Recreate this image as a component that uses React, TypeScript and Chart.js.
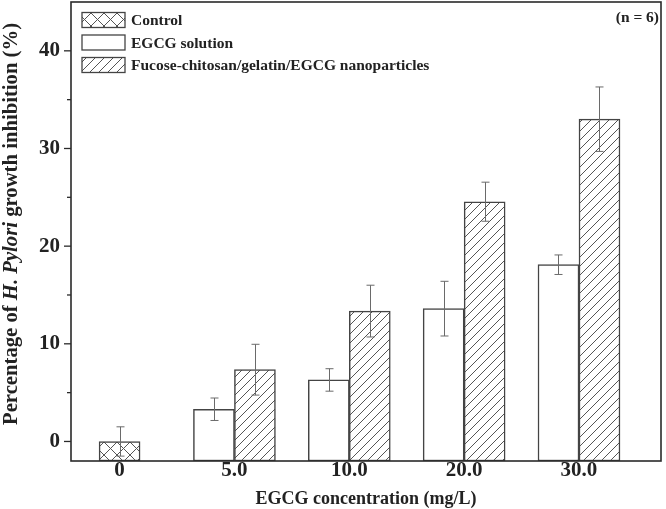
import React, { useEffect, useRef } from 'react';
import { Chart, registerables } from 'chart.js';

Chart.register(...registerables);

// ---- data ----
const categories = ['0', '5.0', '10.0', '20.0', '30.0'];
const seriesLabels = ['Control', 'EGCG solution', 'Fucose-chitosan/gelatin/EGCG nanoparticles'];
const controlValues = [0, null, null, null, null];
const controlErrors = [1.5, null, null, null, null];
const solutionValues = [null, 3.3, 6.3, 13.6, 18.1];
const solutionErrors = [null, 1.15, 1.15, 2.8, 1.0];
const nanoValues = [null, 7.35, 13.35, 24.55, 33.0];
const nanoErrors = [null, 2.6, 2.65, 2.0, 3.3];
const yMin = -2;
const yMax = 45;
const yTicks = [0, 5, 10, 15, 20, 25, 30, 35, 40];
const yLabelStep = 10;
const xTitle = 'EGCG concentration (mg/L)';
const yTitleParts = [
  { text: 'Percentage of ', italic: false },
  { text: 'H. Pylori', italic: true },
  { text: ' growth inhibition (%)', italic: false },
];
const noteText = '(n = 6)';

const FONT = '"Liberation Serif", "Times New Roman", serif';
const INK = '#222';
const BAR_EDGE = '#444';
const HATCH = '#555';

function makePattern(ctx: CanvasRenderingContext2D, size: number, cross: boolean) {
  const c = document.createElement('canvas');
  c.width = size;
  c.height = size;
  const g = c.getContext('2d')!;
  g.fillStyle = '#fff';
  g.fillRect(0, 0, size, size);
  g.strokeStyle = HATCH;
  g.lineWidth = 1;
  g.beginPath();
  g.moveTo(-1, size + 1);
  g.lineTo(size + 1, -1);
  g.moveTo(-2, 2);
  g.lineTo(2, -2);
  g.moveTo(size - 2, size + 2);
  g.lineTo(size + 2, size - 2);
  if (cross) {
    g.moveTo(-1, -1);
    g.lineTo(size + 1, size + 1);
    g.moveTo(size - 2, -2);
    g.lineTo(size + 2, 2);
    g.moveTo(-2, size - 2);
    g.lineTo(2, size + 2);
  }
  g.stroke();
  return ctx.createPattern(c, 'repeat')!;
}

export default function App() {
  const ref = useRef<HTMLCanvasElement | null>(null);

  useEffect(() => {
    const canvas = ref.current!;
    const ctx = canvas.getContext('2d')!;
    const crossPat = makePattern(ctx, 13, true);
    const diagPat = makePattern(ctx, 9, false);
    const fills: any[] = [crossPat, '#ffffff', diagPat];
    const errors = [controlErrors, solutionErrors, nanoErrors];

    const decor = {
      id: 'decor',
      beforeDraw(chart: any) {
        const c = chart.ctx;
        c.save();
        c.fillStyle = '#fff';
        c.fillRect(0, 0, chart.width, chart.height);
        c.restore();
      },
      afterDatasetsDraw(chart: any) {
        const c: CanvasRenderingContext2D = chart.ctx;
        const ys = chart.scales.y;
        const area = chart.chartArea;
        c.save();
        // error bars
        c.strokeStyle = '#6a6a6a';
        c.lineWidth = 1;
        chart.data.datasets.forEach((ds: any, i: number) => {
          const meta = chart.getDatasetMeta(i);
          ds.data.forEach((v: any, j: number) => {
            const e = errors[i][j];
            if (v === null || e === null) return;
            const el = meta.data[j];
            const x = Math.round(el.x) + 0.5;
            const yt = ys.getPixelForValue(v + e);
            const yb = ys.getPixelForValue(v - e);
            c.beginPath();
            c.moveTo(x, yt);
            c.lineTo(x, yb);
            c.moveTo(x - 4, yt);
            c.lineTo(x + 4, yt);
            c.moveTo(x - 4, yb);
            c.lineTo(x + 4, yb);
            c.stroke();
          });
        });
        // frame
        c.strokeStyle = '#2a2a2a';
        c.lineWidth = 1.6;
        c.strokeRect(area.left, area.top, area.right - area.left, area.bottom - area.top);
        // y tick marks
        c.lineWidth = 1.3;
        for (const v of yTicks) {
          const y = ys.getPixelForValue(v);
          const len = v % yLabelStep === 0 ? 7 : 4;
          c.beginPath();
          c.moveTo(area.left - len, y);
          c.lineTo(area.left, y);
          c.stroke();
        }
        // legend
        const lx = area.left + 11;
        const boxW = 43;
        const boxH = 15;
        c.font = `bold 15.5px ${FONT}`;
        c.textBaseline = 'middle';
        c.textAlign = 'left';
        seriesLabels.forEach((lab, i) => {
          const top = 12.5 + i * 22.5;
          c.fillStyle = fills[i];
          c.fillRect(lx, top, boxW, boxH);
          c.strokeStyle = BAR_EDGE;
          c.lineWidth = 1.3;
          c.strokeRect(lx, top, boxW, boxH);
          c.fillStyle = INK;
          c.fillText(lab, lx + boxW + 6, top + boxH / 2 + 1);
        });
        // note
        c.textAlign = 'right';
        c.fillText(noteText, area.right - 2, 18);
        // x title
        c.font = `bold 18px ${FONT}`;
        c.textAlign = 'center';
        c.textBaseline = 'alphabetic';
        c.fillText(xTitle, (area.left + area.right) / 2, 504);
        // y title
        c.translate(17, 425);
        c.rotate(-Math.PI / 2);
        c.textAlign = 'left';
        let off = 0;
        for (const p of yTitleParts) {
          c.font = `${p.italic ? 'italic ' : ''}bold 20.7px ${FONT}`;
          c.fillText(p.text, off, 0);
          off += c.measureText(p.text).width;
        }
        c.restore();
      },
    };

    const mk = (i: number, data: any[]) => ({
      label: seriesLabels[i],
      data,
      backgroundColor: fills[i],
      borderColor: BAR_EDGE,
      borderWidth: 1.5,
      borderSkipped: false,
      base: yMin,
      barThickness: 41,
      skipNull: true,
    });

    const chart = new Chart(canvas, {
      type: 'bar',
      data: {
        labels: categories,
        datasets: [mk(0, controlValues), mk(1, solutionValues), mk(2, nanoValues)],
      },
      options: {
        animation: false,
        responsive: false,
        layout: { padding: { top: 2, right: 5, left: 0, bottom: 0 } },
        plugins: { legend: { display: false }, tooltip: { enabled: false } },
        scales: {
          x: {
            type: 'category',
            grid: { display: false, drawTicks: false },
            border: { display: false },
            ticks: { color: INK, font: { family: FONT, size: 21, weight: 'bold', lineHeight: 1 }, padding: -1 },
            afterFit: (s: any) => {
              s.height = 48;
              s.paddingLeft = 0;
              s.paddingRight = 0;
            },
            afterBuildTicks: (s: any) => {
              s._startValue = -0.423;
              s._valueRange = 5.137;
            },
          },
          y: {
            type: 'linear',
            min: yMin,
            max: yMax,
            grid: { display: false, drawTicks: false },
            border: { display: false },
            afterBuildTicks: (s: any) => {
              s.ticks = yTicks.map((v) => ({ value: v }));
            },
            ticks: {
              color: INK,
              padding: 11,
              font: { family: FONT, size: 21, weight: 'bold' },
              callback: (v: any) => (v % yLabelStep === 0 ? String(v) : ''),
            },
            afterFit: (s: any) => {
              s.width = 71;
              s.paddingTop = 0;
              s.paddingBottom = 0;
            },
          },
        },
      } as any,
      plugins: [decor],
    });
    return () => chart.destroy();
  }, []);

  return (
    <div style={{ position: 'absolute', left: 0, top: 0, width: 666, height: 509 }}>
      <canvas ref={ref} width={666} height={509} style={{ display: 'block' }} />
    </div>
  );
}
